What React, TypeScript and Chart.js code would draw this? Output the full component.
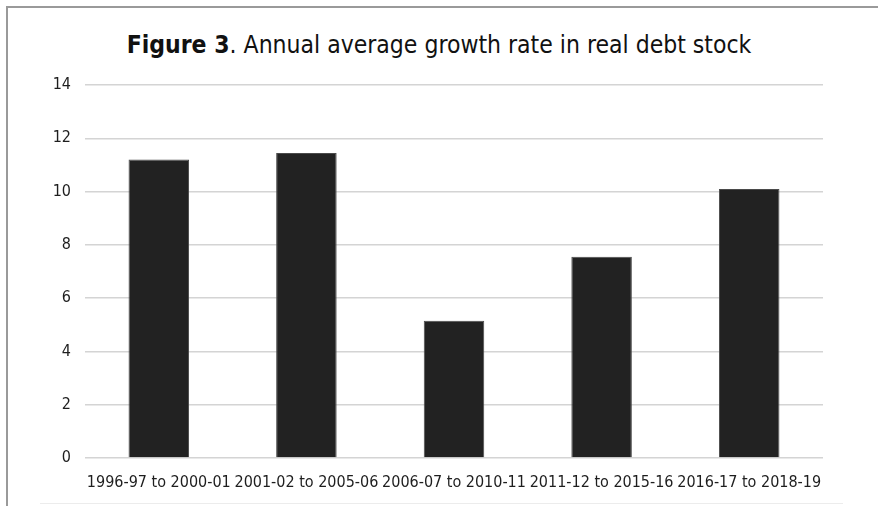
import React, { useEffect, useRef } from "react";
import { Chart, registerables } from "chart.js";

Chart.register(...registerables);

const categories = [
  "1996-97 to 2000-01",
  "2001-02 to 2005-06",
  "2006-07 to 2010-11",
  "2011-12 to 2015-16",
  "2016-17 to 2018-19",
];
const growthRates = [11.2, 11.45, 5.15, 7.55, 10.1];
const yMin = 0;
const yMax = 14;
const yStep = 2;

const FONT = "'Liberation Sans Narrow', 'DejaVu Sans Condensed', 'Liberation Sans', sans-serif";

export default function App() {
  const canvasRef = useRef<HTMLCanvasElement | null>(null);

  useEffect(() => {
    if (!canvasRef.current) return;
    const chart = new Chart(canvasRef.current, {
      type: "bar",
      data: {
        labels: categories,
        datasets: [
          {
            label: "Annual average growth rate",
            data: growthRates,
            backgroundColor: "#222222",
            borderColor: "#4a4a4a",
            borderWidth: 1,
            categoryPercentage: 1,
            barPercentage: 0.41,
          },
        ],
      },
      options: {
        responsive: false,
        animation: false,
        maintainAspectRatio: false,
        layout: { padding: { left: 0, top: 85, right: 55, bottom: 0 } },
        plugins: {
          legend: { display: false },
          title: { display: false },
          tooltip: { enabled: false },
        },
        scales: {
          x: {
            grid: { display: false },
            border: { display: false },
            ticks: {
              color: "#1e1e1e",
              font: { family: FONT, size: 16 },
              padding: 7,
              maxRotation: 0,
              autoSkip: false,
            },
            afterFit: (s: any) => {
              s.height = 48;
            },
          },
          y: {
            min: yMin,
            max: yMax,
            ticks: {
              stepSize: yStep,
              color: "#1e1e1e",
              font: { family: FONT, size: 16 },
              padding: 14,
            },
            grid: { color: "#d4d4d4", lineWidth: 1.5, drawTicks: false },
            border: { display: false },
            afterFit: (s: any) => {
              s.width = 85;
            },
          },
        },
      },
    });
    return () => chart.destroy();
  }, []);

  return (
    <div
      style={{
        position: "absolute",
        left: 0,
        top: 0,
        width: 878,
        height: 506,
        background: "#ffffff",
        overflow: "hidden",
      }}
    >
      <div
        style={{
          position: "absolute",
          left: 6,
          top: 6,
          width: 872,
          height: 500,
          borderTop: "2px solid #9a9a9a",
          borderLeft: "2px solid #9a9a9a",
        }}
      />
      <div
        style={{
          position: "absolute",
          left: 40,
          top: 503,
          width: 803,
          height: 0,
          borderTop: "1px solid #ececec",
        }}
      />
      <div
        style={{
          position: "absolute",
          left: 0,
          top: 29,
          width: 878,
          textAlign: "center",
          fontFamily: FONT,
          fontSize: 24.5,
          color: "#111111",
          lineHeight: "32px",
          whiteSpace: "nowrap",
        }}
      >
        <b>Figure 3</b>. Annual average growth rate in real debt stock
      </div>
      <canvas
        ref={canvasRef}
        width={878}
        height={506}
        style={{ position: "absolute", left: 0, top: 0, width: 878, height: 506 }}
      />
    </div>
  );
}
